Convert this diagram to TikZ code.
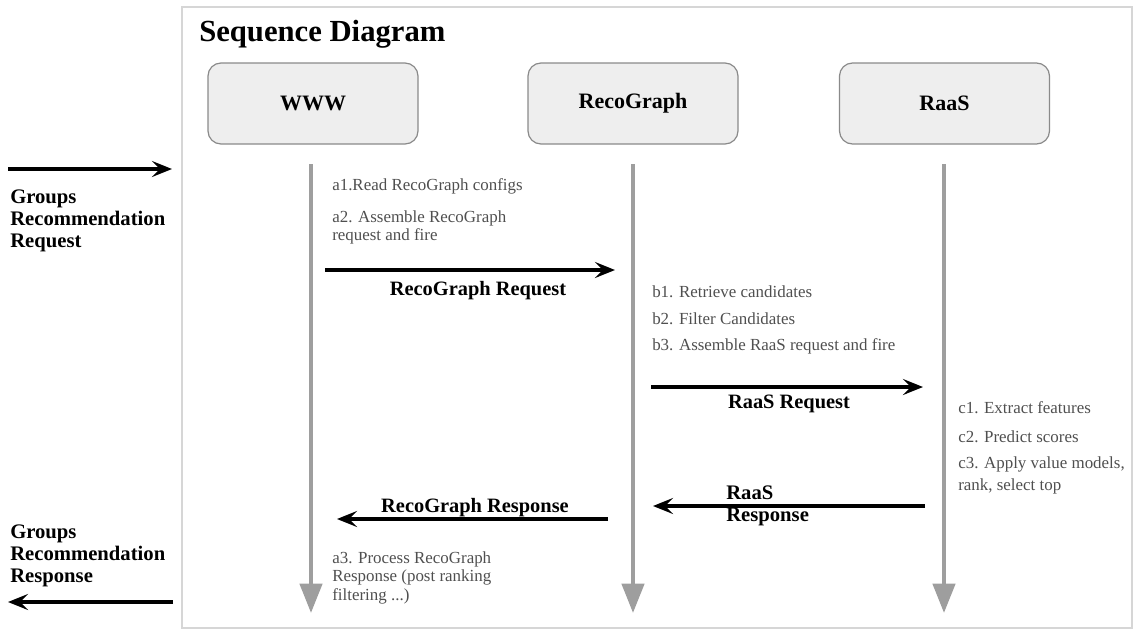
\documentclass[tikz,border=0pt]{standalone}
\usepackage{fontspec}
\setmainfont{Liberation Serif}
\usetikzlibrary{arrows.meta}
\definecolor{boxfill}{HTML}{EEEEEE}
\definecolor{boxline}{HTML}{8A8A8A}
\definecolor{lifegray}{HTML}{9E9E9E}
\definecolor{stepgray}{HTML}{4F4F4F}
\definecolor{panelline}{HTML}{D6D6D6}
\tikzset{
  actor/.style={draw=boxline, line width=0.9pt, fill=boxfill, rounded corners=9.75pt,
    minimum width=157.5pt, minimum height=60.75pt, inner sep=0pt,
    font=\fontsize{16.5}{19}\selectfont\bfseries},
  lifeline/.style={draw=lifegray, line width=3.3pt, -{Triangle[length=22pt,width=16.5pt]}},
  msg/.style={draw=black, line width=2.3pt, -{Stealth[length=15pt,width=12pt,inset=6pt]}},
  msglabel/.style={inner sep=0pt, anchor=base, font=\fontsize{15.3}{16.5}\selectfont\bfseries},
  steptext/.style={inner sep=0pt, anchor=base west, text=stepgray},
  sidelabel/.style={inner sep=0pt, anchor=base west, font=\fontsize{15.5}{16.5}\selectfont\bfseries},
}
\begin{document}
\begin{tikzpicture}[x=0.75pt,y=-0.75pt]
\useasboundingbox (0,0) rectangle (1133,629);
% panel
\draw[panelline, line width=0.8pt] (182,7) rectangle (1132,628);
\node[inner sep=0pt, anchor=base west, font=\fontsize{23}{26}\selectfont\bfseries] (title) at (199,41) {Sequence Diagram};
% actors
\node[actor] (www) at (313,103.5) {WWW};
\node[actor] (reco) at (633,103.5) {RecoGraph};
\node[actor] (raas) at (944.5,103.5) {RaaS};
% lifelines
\coordinate (wtop) at (311,164); \coordinate (wbot) at (311,613);
\coordinate (rtop) at (633,164); \coordinate (rbot) at (633,613);
\coordinate (stop) at (944,164); \coordinate (sbot) at (944,613);
\draw[lifeline] (wtop) -- (wbot);
\draw[lifeline] (rtop) -- (rbot);
\draw[lifeline] (stop) -- (sbot);
% incoming request
\coordinate (inS) at (8,169); \coordinate (inE) at (172,169);
\draw[msg] (inS) -- (inE);
\node[sidelabel] (inlabel) at (10,203) {\begin{tabular}[t]{@{}l@{}}Groups\\Recommendation\\Request\end{tabular}};
% outgoing response
\coordinate (outS) at (173,602); \coordinate (outE) at (8,602);
\draw[msg] (outS) -- (outE);
\node[sidelabel] (outlabel) at (10,538) {\begin{tabular}[t]{@{}l@{}}Groups\\Recommendation\\Response\end{tabular}};
% step texts
\node[steptext, font=\fontsize{12.7}{13.5}\selectfont] (a1) at (332,190) {a1.Read RecoGraph configs};
\node[steptext, font=\fontsize{12.7}{13.5}\selectfont] (a2) at (332,222) {\begin{tabular}[t]{@{}l@{}}a2. Assemble RecoGraph\\request and fire\end{tabular}};
\node[steptext, font=\fontsize{12.7}{13.5}\selectfont] (b1) at (652,297) {b1. Retrieve candidates};
\node[steptext, font=\fontsize{12.7}{13.5}\selectfont] (b2) at (652,324) {b2. Filter Candidates};
\node[steptext, font=\fontsize{12.7}{13.5}\selectfont] (b3) at (652,350) {b3. Assemble RaaS request and fire};
\node[steptext, font=\fontsize{12.7}{13.5}\selectfont] (c1) at (958,413) {c1. Extract features};
\node[steptext, font=\fontsize{12.7}{13.5}\selectfont] (c2) at (958,442) {c2. Predict scores};
\node[steptext, font=\fontsize{12.7}{16.5}\selectfont] (c3) at (958,468) {\begin{tabular}[t]{@{}l@{}}c3. Apply value models,\\rank, select top\end{tabular}};
\node[steptext, font=\fontsize{12.7}{14.2}\selectfont] (a3) at (332,563) {\begin{tabular}[t]{@{}l@{}}a3. Process RecoGraph\\Response (post ranking\\filtering ...)\end{tabular}};
% messages
\coordinate (m1s) at (325,270); \coordinate (m1e) at (615,270);
\draw[msg] (m1s) -- (m1e);
\node[msglabel] (m1l) at (478,295) {RecoGraph Request};
\coordinate (m2s) at (651,387); \coordinate (m2e) at (923,387);
\draw[msg] (m2s) -- (m2e);
\node[msglabel] (m2l) at (789,408) {RaaS Request};
\coordinate (m3s) at (925,506); \coordinate (m3e) at (653,506);
\draw[msg] (m3s) -- (m3e);
\node[sidelabel] (m3l) at (726,499) {\begin{tabular}[t]{@{}l@{}}RaaS\\Response\end{tabular}};
\coordinate (m4s) at (608,519); \coordinate (m4e) at (337,519);
\draw[msg] (m4s) -- (m4e);
\node[msglabel] (m4l) at (475,512) {RecoGraph Response};
\end{tikzpicture}
\end{document}
